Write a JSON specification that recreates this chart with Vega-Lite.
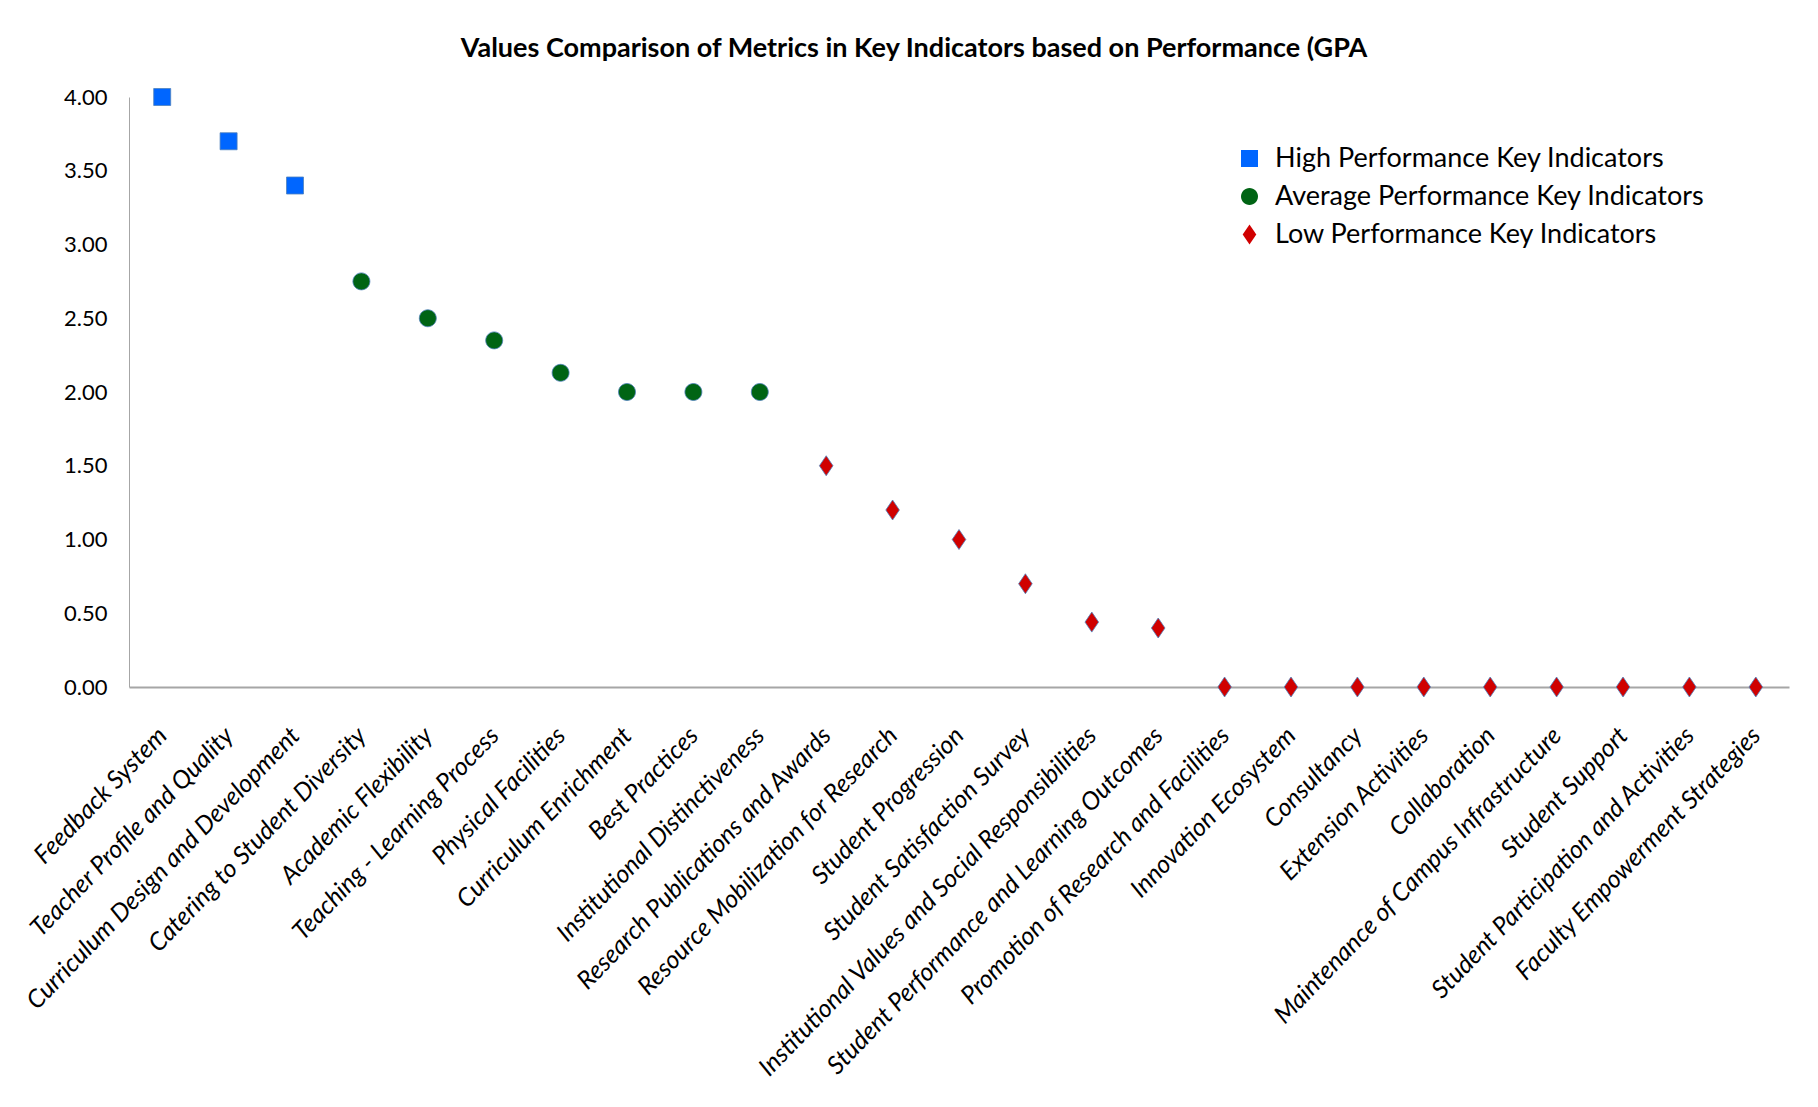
{
  "$schema": "https://vega.github.io/schema/vega-lite/v6.json",
  "width": 1660,
  "height": 590,
  "autosize": {"type": "none"},
  "padding": {"left": 129, "top": 97, "right": 29, "bottom": 420},
  "background": "white",
  "title": {
    "text": "Values Comparison of Metrics in Key Indicators based on Performance (GPA",
    "font": "Lato",
    "fontSize": 27,
    "fontWeight": "bold",
    "color": "#000000",
    "anchor": "middle",
    "frame": "group",
    "dx": -45,
    "offset": 23
  },
  "config": {
    "view": {"stroke": null},
    "font": "Lato"
  },
  "data": {
    "values": [
      {"indicator": "Feedback System", "gpa": 4.00, "group": "High Performance Key Indicators"},
      {"indicator": "Teacher Profile and Quality", "gpa": 3.70, "group": "High Performance Key Indicators"},
      {"indicator": "Curriculum Design and Development", "gpa": 3.40, "group": "High Performance Key Indicators"},
      {"indicator": "Catering to Student Diversity", "gpa": 2.75, "group": "Average Performance Key Indicators"},
      {"indicator": "Academic Flexibility", "gpa": 2.50, "group": "Average Performance Key Indicators"},
      {"indicator": "Teaching - Learning Process", "gpa": 2.35, "group": "Average Performance Key Indicators"},
      {"indicator": "Physical Facilities", "gpa": 2.13, "group": "Average Performance Key Indicators"},
      {"indicator": "Curriculum Enrichment", "gpa": 2.00, "group": "Average Performance Key Indicators"},
      {"indicator": "Best Practices", "gpa": 2.00, "group": "Average Performance Key Indicators"},
      {"indicator": "Institutional Distinctiveness", "gpa": 2.00, "group": "Average Performance Key Indicators"},
      {"indicator": "Research Publications and Awards", "gpa": 1.50, "group": "Low Performance Key Indicators"},
      {"indicator": "Resource Mobilization for Research", "gpa": 1.20, "group": "Low Performance Key Indicators"},
      {"indicator": "Student Progression", "gpa": 1.00, "group": "Low Performance Key Indicators"},
      {"indicator": "Student Satisfaction Survey", "gpa": 0.70, "group": "Low Performance Key Indicators"},
      {"indicator": "Institutional Values and Social Responsibilities", "gpa": 0.44, "group": "Low Performance Key Indicators"},
      {"indicator": "Student Performance and Learning Outcomes", "gpa": 0.40, "group": "Low Performance Key Indicators"},
      {"indicator": "Promotion of Research and Facilities", "gpa": 0.00, "group": "Low Performance Key Indicators"},
      {"indicator": "Innovation Ecosystem", "gpa": 0.00, "group": "Low Performance Key Indicators"},
      {"indicator": "Consultancy", "gpa": 0.00, "group": "Low Performance Key Indicators"},
      {"indicator": "Extension Activities", "gpa": 0.00, "group": "Low Performance Key Indicators"},
      {"indicator": "Collaboration", "gpa": 0.00, "group": "Low Performance Key Indicators"},
      {"indicator": "Maintenance of Campus Infrastructure", "gpa": 0.00, "group": "Low Performance Key Indicators"},
      {"indicator": "Student Support", "gpa": 0.00, "group": "Low Performance Key Indicators"},
      {"indicator": "Student Participation and Activities", "gpa": 0.00, "group": "Low Performance Key Indicators"},
      {"indicator": "Faculty Empowerment Strategies", "gpa": 0.00, "group": "Low Performance Key Indicators"}
    ]
  },
  "mark": {"type": "point", "filled": true, "size": 400, "opacity": 1, "stroke": "#4F81BD", "strokeWidth": 0.8},
  "encoding": {
    "x": {
      "field": "indicator",
      "type": "nominal",
      "sort": null,
      "title": null,
      "scale": {"padding": 0.5},
      "axis": {
        "labelAngle": -46,
        "labelAlign": "right",
        "labelBaseline": "middle",
        "labelFont": "Lato",
        "labelFontStyle": "italic",
        "labelFontSize": 25,
        "labelColor": "#000000",
        "labelPadding": 44,
        "labelLimit": 0,
        "labelOverlap": false,
        "ticks": false,
        "tickSize": 0,
        "domainColor": "#A6A6A6",
        "domainWidth": 2,
        "grid": false
      }
    },
    "y": {
      "field": "gpa",
      "type": "quantitative",
      "title": null,
      "scale": {"domain": [0, 4], "nice": false, "zero": true},
      "axis": {
        "values": [0, 0.5, 1, 1.5, 2, 2.5, 3, 3.5, 4],
        "format": ".2f",
        "labelFont": "Lato",
        "labelFontSize": 22,
        "labelColor": "#000000",
        "labelPadding": 22,
        "ticks": false,
        "tickSize": 0,
        "domainColor": "#A6A6A6",
        "domainWidth": 1,
        "grid": false
      }
    },
    "color": {
      "field": "group",
      "type": "nominal",
      "title": null,
      "scale": {
        "domain": ["High Performance Key Indicators", "Average Performance Key Indicators", "Low Performance Key Indicators"],
        "range": ["#0066FF", "#006414", "#D00000"]
      },
      "legend": {
        "orient": "none",
        "legendX": 1107,
        "legendY": 48,
        "labelFont": "Lato",
        "labelFontSize": 27,
        "labelColor": "#000000",
        "labelLimit": 0,
        "symbolSize": 400,
        "symbolStrokeWidth": 0,
        "rowPadding": 10,
        "labelOffset": 12
      }
    },
    "shape": {
      "field": "group",
      "type": "nominal",
      "title": null,
      "scale": {
        "domain": ["High Performance Key Indicators", "Average Performance Key Indicators", "Low Performance Key Indicators"],
        "range": [
          "M-0.85,-0.85L0.85,-0.85L0.85,0.85L-0.85,0.85Z",
          "M0.85,0A0.85,0.85,0,1,1,-0.85,0A0.85,0.85,0,1,1,0.85,0Z",
          "M0,-1L0.68,0L0,1L-0.68,0Z"
        ]
      }
    }
  }
}
